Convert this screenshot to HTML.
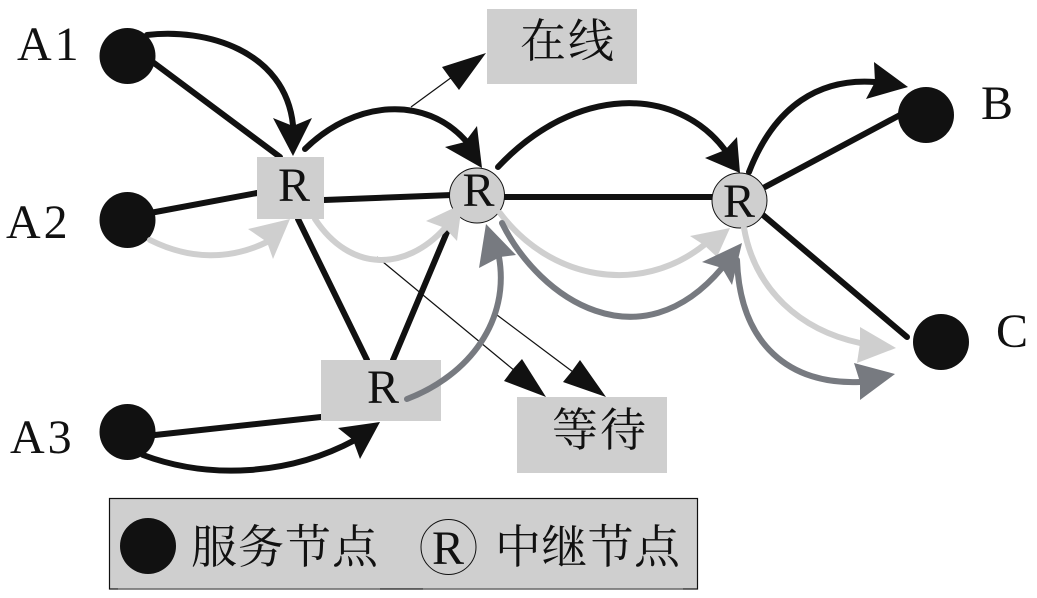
<!DOCTYPE html>
<html><head><meta charset="utf-8"><style>
html,body{margin:0;padding:0;background:#fff}
svg{display:block}
text{font-family:"Liberation Serif","Noto Serif CJK SC",serif;fill:#111}
.k{stroke:#111;fill:none;stroke-width:6;stroke-linecap:round}
.l{stroke:#cfcfcf;fill:none;stroke-width:6;stroke-linecap:round}
.d{stroke:#777a80;fill:none;stroke-width:6;stroke-linecap:round}
.t{stroke:#111;fill:none;stroke-width:1.2}
.n{font-size:48px;letter-spacing:3px}
.r{font-size:48px}
.c{font-size:46px;letter-spacing:2px}
</style></head><body>
<svg width="1037" height="598" viewBox="0 0 1037 598" xmlns="http://www.w3.org/2000/svg">
<rect x="487" y="9" width="150" height="75" fill="#cfcfcf"/>
<rect x="517" y="397" width="150" height="76" fill="#cfcfcf"/>
<rect x="109.500" y="498.500" width="588" height="90.500" fill="#cfcfcf" stroke="#111" stroke-width="1.200"/>
<line x1="118" y1="589" x2="380" y2="589" stroke="#777" stroke-width="1.400"/>
<line x1="423" y1="589" x2="683" y2="589" stroke="#777" stroke-width="1.400"/>
<line class="t" x1="411" y1="107" x2="452" y2="77"/>
<path fill="#111" d="M486,53 L442,67 L450,78 L459,90Z"/>
<line class="t" x1="377" y1="257" x2="515" y2="371"/>
<path fill="#111" d="M546,397 L522,359 L513,369 L504,381Z"/>
<line class="t" x1="493" y1="312" x2="573" y2="372"/>
<path fill="#111" d="M606,397 L580,360 L572,371 L563,382Z"/>
<line class="k" x1="150" y1="60" x2="280" y2="157"/>
<line class="k" x1="150" y1="213" x2="257" y2="193"/>
<line class="k" x1="155" y1="435" x2="321" y2="417"/>
<line class="k" x1="298" y1="219" x2="367" y2="360"/>
<line class="k" x1="393" y1="360" x2="447" y2="232"/>
<line class="k" x1="324" y1="200" x2="452" y2="195"/>
<line class="k" x1="505" y1="197" x2="712" y2="197"/>
<line class="k" x1="765" y1="187" x2="900" y2="115"/>
<line class="k" x1="763" y1="215" x2="907" y2="337"/>
<rect x="257" y="157" width="67" height="62" fill="#cfcfcf"/>
<rect x="321" y="360" width="120" height="61" fill="#cfcfcf"/>
<circle cx="477" cy="195.500" r="27.500" fill="#cfcfcf" stroke="#111" stroke-width="1"/>
<circle cx="739.500" cy="200.500" r="27.500" fill="#cfcfcf" stroke="#111" stroke-width="1"/>
<circle cx="127.500" cy="56" r="28" fill="#111"/>
<circle cx="127.500" cy="220" r="28" fill="#111"/>
<circle cx="127.500" cy="432" r="28" fill="#111"/>
<circle cx="926" cy="115" r="28" fill="#111"/>
<circle cx="941" cy="342" r="28" fill="#111"/>
<path class="k" d="M147,35 C205,28 285,50 293,125"/>
<path fill="#111" d="M293,156 L273,118 L293,126 L312,118Z"/>
<path class="k" d="M143,455 C210,480 290,475 355,440"/>
<path fill="#111" d="M380,422 L338,428 L353,440 L360,459Z"/>
<path class="l" d="M150,240 C190,260 230,260 267,242"/>
<path fill="#cfcfcf" d="M290,219 L248,229 L267,242 L273,259Z"/>
<path class="k" d="M305,149 C355,100 425,95 466,141"/>
<path fill="#111" d="M482,168 L445,147 L465,142 L477,126Z"/>
<path class="l" d="M315,219 C350,272 405,272 445,228"/>
<path fill="#cfcfcf" d="M462,204 L426,221 L445,228 L457,241Z"/>
<path class="k" d="M498,167 C575,85 676,85 725,150"/>
<path fill="#111" d="M740,173 L705,158 L725,150 L737,137Z"/>
<path class="k" d="M749,172 C775,105 820,78 875,82"/>
<path fill="#111" d="M908,87 L874,62 L875,82 L866,99Z"/>
<path class="l" d="M500,213 C550,280 640,296 704,245"/>
<path fill="#cfcfcf" d="M730,228 L690,236 L704,245 L717,257Z"/>
<path class="d" d="M502,223 C540,300 640,365 722,268"/>
<path fill="#777a80" d="M742,243 L702,262 L722,268 L732,285Z"/>
<path class="d" d="M407,399 C470,375 510,320 499,257"/>
<path fill="#777a80" d="M486,224 L479,268 L500,257 L516,255Z"/>
<path class="l" d="M744,228 C755,290 800,330 860,343"/>
<path fill="#cfcfcf" d="M896,348 L860,327 L860,343 L857,363Z"/>
<path class="d" d="M737,260 C740,345 790,385 860,382"/>
<path fill="#777a80" d="M895,374 L854,363 L860,382 L860,400Z"/>
<text class="n" x="17" y="60">A1</text>
<text class="n" x="6" y="238">A2</text>
<text class="n" x="10" y="453">A3</text>
<text class="r" x="981" y="119">B</text>
<text class="r" x="996" y="347">C</text>
<text class="r" x="278" y="201">R</text>
<text class="r" x="462.500" y="206">R</text>
<text class="r" x="723" y="217">R</text>
<text class="r" x="367" y="403">R</text>
<text class="c" x="520" y="57">在线</text>
<text class="c" x="552" y="446">等待</text>
<circle cx="148" cy="546" r="28" fill="#111"/>
<text class="c" x="191" y="563" textLength="189">服务节点</text>
<circle cx="448.500" cy="547" r="27.500" fill="none" stroke="#111" stroke-width="1"/>
<text class="r" x="432" y="564">R</text>
<text class="c" x="495" y="563" textLength="187">中继节点</text>
</svg>
</body></html>
